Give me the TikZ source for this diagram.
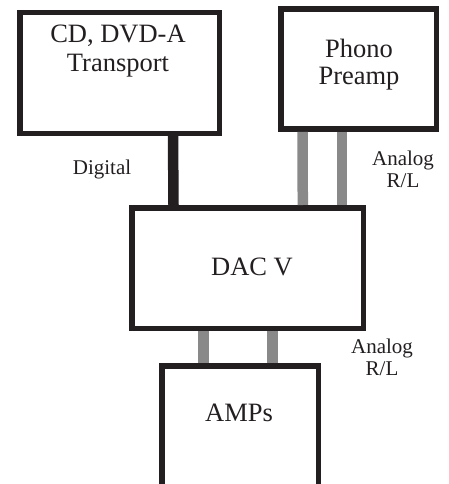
\documentclass[tikz,border=0pt]{standalone}
\usepackage{fontspec}
\setmainfont{Liberation Serif}
\definecolor{boxblack}{HTML}{231F20}
\definecolor{wiregray}{HTML}{898989}
\begin{document}
\begin{tikzpicture}[x=1pt,y=-1pt,
  unitbox/.style={draw=boxblack,line width=5.5pt,rectangle,inner sep=0pt,fill=white},
  digwire/.style={draw=boxblack,line width=10.5pt},
  anawire/.style={draw=wiregray,line width=10.5pt},
  bigtext/.style={font=\fontsize{26.5}{29.4}\selectfont,text=boxblack,align=center,inner sep=0pt,anchor=base},
  smalltext/.style={font=\fontsize{21}{21.5}\selectfont,text=boxblack,align=center,inner sep=0pt,anchor=base}]
\useasboundingbox (0,0) rectangle (449,484);
\begin{scope}
\clip (0,0) rectangle (449,484);
\node[unitbox,minimum width=199.5pt,minimum height=120.5pt] (cd) at (119.5,73) {};
\node[unitbox,minimum width=155.5pt,minimum height=120.25pt] (phono) at (358.5,68.9) {};
\node[unitbox,minimum width=231.5pt,minimum height=120.5pt] (dac) at (247.5,268) {};
\node[unitbox,minimum width=156.5pt,minimum height=140pt] (amps) at (240,435.75) {};
\draw[digwire] ([xshift=53.5pt]cd.south) -- ([xshift=-74pt]dac.north);
\draw[anawire] ([xshift=-56pt]phono.south) -- ([xshift=55.3pt]dac.north);
\draw[anawire] ([xshift=-16.5pt]phono.south) -- ([xshift=94.5pt]dac.north);
\draw[anawire] ([xshift=-43.8pt]dac.south) -- ([xshift=-36.3pt]amps.north);
\draw[anawire] ([xshift=25.2pt]dac.south) -- ([xshift=32.7pt]amps.north);
\end{scope}
\node[bigtext] (cdtext) at (118,71.7) {CD, DVD-A\\Transport};
\node[bigtext,font=\fontsize{26.5}{27.7}\selectfont] (phonotext) at (359,85) {Phono\\Preamp};
\node[smalltext] (digtext) at (102,174) {Digital};
\node[smalltext] (ana1text) at (403,187.3) {Analog\\R/L};
\node[bigtext] (dactext) at (252,275) {DAC V};
\node[smalltext] (ana2text) at (382,375) {Analog\\R/L};
\node[bigtext] (ampstext) at (239,421.7) {AMPs};
\end{tikzpicture}
\end{document}
